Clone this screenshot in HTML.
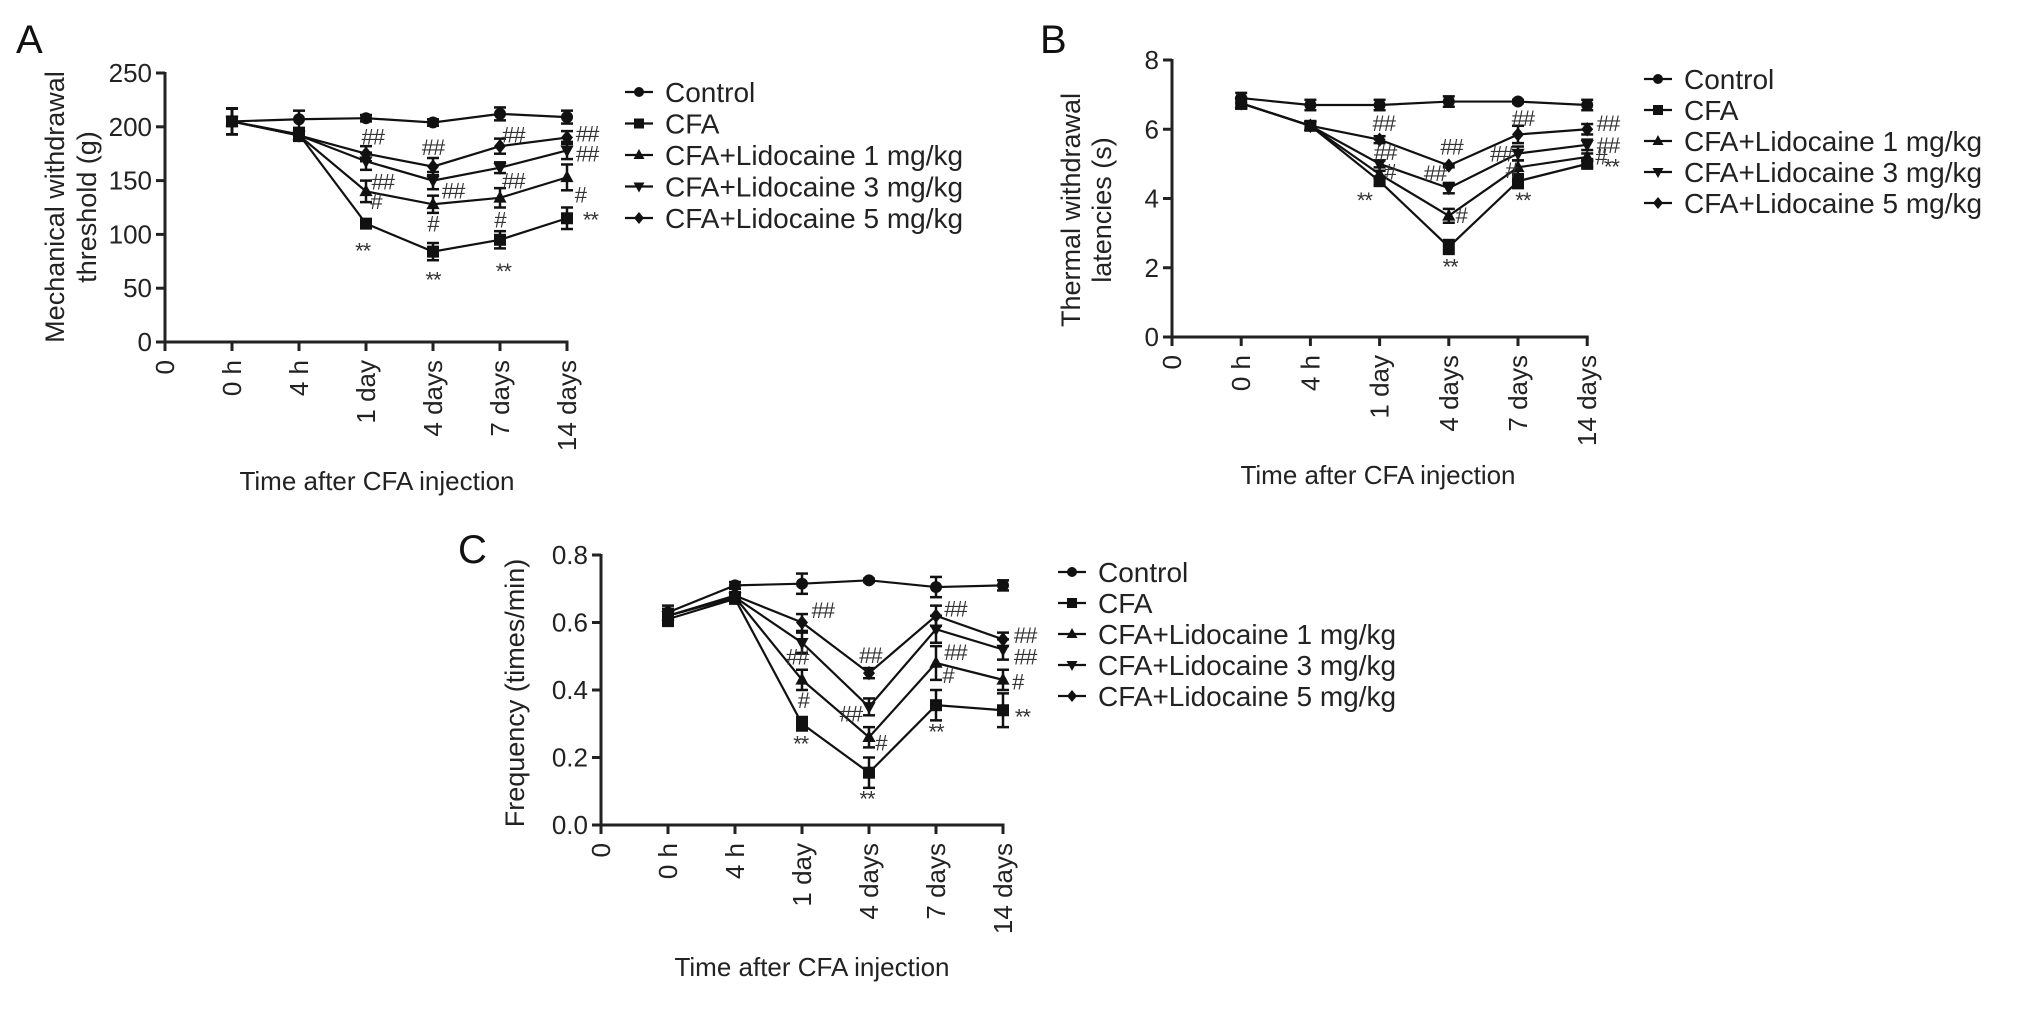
<!DOCTYPE html>
<html><head><meta charset="utf-8"><style>
html,body{margin:0;padding:0;background:#fff;}
svg{display:block;font-family:"Liberation Sans",Arial,sans-serif;}
</style></head><body>
<svg id="fig" width="2031" height="1015" viewBox="0 0 2031 1015" xmlns="http://www.w3.org/2000/svg">
<rect width="2031" height="1015" fill="#fff"/>
</svg>
<script>
// ---- shared data ----
const categories = ["0", "0 h", "4 h", "1 day", "4 days", "7 days", "14 days"];
const seriesNames = ["Control", "CFA", "CFA+Lidocaine 1 mg/kg", "CFA+Lidocaine 3 mg/kg", "CFA+Lidocaine 5 mg/kg"];
const markerTypes = ["circle", "square", "tri-up", "tri-down", "diamond"];

// ---- Panel A: mechanical withdrawal threshold (g) ----
const aTicks = [0, 50, 100, 150, 200, 250];
const aTickLabels = ["0", "50", "100", "150", "200", "250"];
const aControl = [205, 207, 208, 204, 212, 209];
const aCFA     = [205, 193, 110, 84, 95, 115];
const aLido1   = [205, 192, 140, 128, 134, 153];
const aLido3   = [205, 192, 168, 150, 162, 178];
const aLido5   = [205, 192, 175, 163, 182, 190];
const aErrControl = [12, 8, 3, 3, 6, 6];
const aErrCFA     = [12, 5, 4, 8, 8, 10];
const aErrLido1   = [12, 5, 10, 8, 9, 12];
const aErrLido3   = [12, 5, 8, 8, 5, 8];
const aErrLido5   = [12, 5, 7, 8, 7, 6];
const aMarks = [["##",3.1,191],["##",4,181],["##",5.2,193],["##",6.3,194],["##",6.3,175],["##",3.25,149],["#",3.15,131],["##",4.3,141],["#",4,110],["##",5.2,150],["#",5,114],["#",6.2,137],["**",2.95,85],["**",4,58],["**",5.05,66],["**",6.35,114]];

// ---- Panel B: thermal withdrawal latencies (s) ----
const bTicks = [0, 2, 4, 6, 8];
const bTickLabels = ["0", "2", "4", "6", "8"];
const bControl = [6.9, 6.7, 6.7, 6.8, 6.8, 6.7];
const bCFA     = [6.75, 6.1, 4.5, 2.6, 4.5, 5.0];
const bLido1   = [6.75, 6.1, 4.7, 3.5, 4.9, 5.2];
const bLido3   = [6.75, 6.1, 5.0, 4.3, 5.3, 5.55];
const bLido5   = [6.75, 6.1, 5.7, 4.95, 5.85, 6.0];
const bErrControl = [0.15, 0.15, 0.15, 0.15, 0.05, 0.15];
const bErrCFA     = [0.15, 0.12, 0.12, 0.2, 0.2, 0.1];
const bErrLido1   = [0.15, 0.12, 0.1, 0.2, 0.2, 0.1];
const bErrLido3   = [0.15, 0.12, 0.1, 0.15, 0.2, 0.15];
const bErrLido5   = [0.15, 0.12, 0.1, 0.05, 0.25, 0.15];
const bMarks = [["##",3.06,6.18],["##",3.08,5.35],["#",3.15,4.78],["##",4.04,5.5],["##",3.8,4.73],["#",4.18,3.53],["**",2.78,3.96],["**",4.02,2.03],["**",5.07,3.96],["##",5.07,6.32],["##",4.76,5.3],["#",4.9,4.83],["##",6.3,6.18],["##",6.3,5.55],["#",6.2,5.21],["**",6.35,4.92]];

// ---- Panel C: frequency (times/min) ----
const cTicks = [0, 0.2, 0.4, 0.6, 0.8];
const cTickLabels = ["0.0", "0.2", "0.4", "0.6", "0.8"];
const cControl = [0.63, 0.71, 0.715, 0.725, 0.705, 0.71];
const cCFA     = [0.61, 0.67, 0.30, 0.155, 0.355, 0.34];
const cLido1   = [0.62, 0.675, 0.43, 0.26, 0.48, 0.43];
const cLido3   = [0.62, 0.675, 0.54, 0.35, 0.58, 0.52];
const cLido5   = [0.62, 0.68, 0.60, 0.45, 0.62, 0.55];
const cErrControl = [0.02, 0.01, 0.03, 0.005, 0.03, 0.015];
const cErrCFA     = [0.02, 0.01, 0.02, 0.045, 0.045, 0.05];
const cErrLido1   = [0.02, 0.01, 0.03, 0.03, 0.05, 0.03];
const cErrLido3   = [0.02, 0.01, 0.03, 0.025, 0.04, 0.03];
const cErrLido5   = [0.02, 0.01, 0.025, 0.015, 0.03, 0.02];
const cMarks = [["##",3.31,0.637],["##",2.93,0.499],["#",3.02,0.37],["##",4.02,0.504],["##",3.73,0.331],["#",4.18,0.244],["##",5.29,0.642],["##",5.29,0.513],["#",5.18,0.444],["##",6.33,0.563],["##",6.33,0.499],["#",6.22,0.425],["**",6.29,0.321],["**",2.98,0.242],["**",3.97,0.079],["**",5.0,0.277]];

const NS = "http://www.w3.org/2000/svg";
const svg = document.getElementById("fig");
function mk(tag, attrs, parent) {
  const e = document.createElementNS(NS, tag);
  for (const k in attrs) e.setAttribute(k, attrs[k]);
  (parent || svg).appendChild(e);
  return e;
}
function marker(g, type, cx, cy, r) {
  let m;
  if (type === "circle") m = mk("circle", {cx: cx, cy: cy, r: r, fill: "#111"}, g);
  else if (type === "square") m = mk("rect", {x: cx - r, y: cy - r, width: 2 * r, height: 2 * r, fill: "#111"}, g);
  else if (type === "tri-up") m = mk("polygon", {points: `${cx},${cy - r * 1.2} ${cx - r * 1.1},${cy + r * 0.8} ${cx + r * 1.1},${cy + r * 0.8}`, fill: "#111"}, g);
  else if (type === "tri-down") m = mk("polygon", {points: `${cx},${cy + r * 1.2} ${cx - r * 1.1},${cy - r * 0.8} ${cx + r * 1.1},${cy - r * 0.8}`, fill: "#111"}, g);
  else m = mk("polygon", {points: `${cx},${cy - r * 1.2} ${cx + r},${cy} ${cx},${cy + r * 1.2} ${cx - r},${cy}`, fill: "#111"}, g);
  return m;
}

function drawPanel(p) {
  const g = mk("g", {});
  
  
  const X = i => p.x0 + i * p.step;
  const Y = v => p.yBot - (v - p.vMin) / (p.vMax - p.vMin) * (p.yBot - p.yTop);
  const xEnd = X(categories.length - 1);

  // panel letter
  const L = mk("text", {x: p.letterX, y: p.letterY, "font-size": 40, fill: "#111"}, g);
  L.textContent = p.letter;
  
  

  // axes
  const ax = mk("g", {stroke: "#222", "stroke-width": 3, fill: "none"}, g);
  
  
  mk("line", {x1: p.x0, y1: p.yTop - 1, x2: p.x0, y2: p.yBot + 1.5}, ax);
  mk("line", {x1: p.x0 - 1.5, y1: p.yBot, x2: xEnd + 1.5, y2: p.yBot}, ax);
  p.ticks.forEach((t, i) => {
    mk("line", {x1: p.x0 - 9, y1: Y(t), x2: p.x0, y2: Y(t)}, ax);
    const tl = mk("text", {x: p.x0 - 13, y: Y(t) + 9, "font-size": 26, "text-anchor": "end", fill: "#222"}, g);
    tl.textContent = p.tickLabels[i];
    
    
  });
  categories.forEach((c, i) => {
    mk("line", {x1: X(i), y1: p.yBot, x2: X(i), y2: p.yBot + 9}, ax);
    const tl = mk("text", {"font-size": 26, "text-anchor": "end", fill: "#222", transform: `translate(${X(i) + 9},${p.yBot + 18}) rotate(-90)`}, g);
    tl.textContent = c;
    
    
  });

  // axis titles
  const xt = mk("text", {x: p.xTitleX, y: p.xTitleY, "font-size": 26, "text-anchor": "middle", fill: "#222"}, g);
  xt.textContent = "Time after CFA injection";
  
  
  p.yTitle.forEach((line, k) => {
    const yt = mk("text", {"font-size": 27, "text-anchor": "middle", fill: "#222", transform: `translate(${p.yTitleX[k]},${p.yTitleY}) rotate(-90)`}, g);
    yt.textContent = line;
    
    
  });

  // series
  p.series.forEach((vals, s) => {
    const sg = mk("g", {}, g);
    
    
    const pts = vals.map((v, i) => `${X(i + 1)},${Y(v)}`).join(" ");
    mk("polyline", {points: pts, fill: "none", stroke: "#111", "stroke-width": 2.2}, sg);
    vals.forEach((v, i) => {
      const e = p.errs[s][i];
      const cx = X(i + 1);
      mk("line", {x1: cx, y1: Y(v + e), x2: cx, y2: Y(v - e), stroke: "#111", "stroke-width": 2.5}, sg);
      mk("line", {x1: cx - 6, y1: Y(v + e), x2: cx + 6, y2: Y(v + e), stroke: "#111", "stroke-width": 2.5}, sg);
      mk("line", {x1: cx - 6, y1: Y(v - e), x2: cx + 6, y2: Y(v - e), stroke: "#111", "stroke-width": 2.5}, sg);
      const m = marker(sg, markerTypes[s], cx, Y(v), 6);
      
      
    });
  });

  // significance marks
  p.marks.forEach(mm => {
    const t = mk("text", {x: X(mm[1]), y: Y(mm[2]) + 8, "font-size": 22, "text-anchor": "middle", fill: "#333", "letter-spacing": "-1"}, g);
    t.textContent = mm[0];
    
    
  });

  // legend
  const lg = mk("g", {}, g);
  
  
  seriesNames.forEach((n, s) => {
    const ly = p.legY + s * p.legStep;
    const eg = mk("g", {}, lg);
    
    
    mk("line", {x1: p.legX - 14, y1: ly, x2: p.legX + 14, y2: ly, stroke: "#111", "stroke-width": 2.2}, eg);
    marker(eg, markerTypes[s], p.legX, ly, 5);
    const t = mk("text", {x: p.legX + 26, y: ly + 10, "font-size": 28, fill: "#222"}, eg);
    t.textContent = n;
  });
}

drawPanel({name: "panel-a-mechanical", letter: "A", letterX: 16, letterY: 53,
  x0: 165, step: 67, yTop: 73, yBot: 342, vMin: 0, vMax: 250,
  ticks: aTicks, tickLabels: aTickLabels,
  series: [aControl, aCFA, aLido1, aLido3, aLido5],
  errs: [aErrControl, aErrCFA, aErrLido1, aErrLido3, aErrLido5],
  marks: aMarks,
  xTitleX: 377, xTitleY: 490,
  yTitle: ["Mechanical withdrawal", "threshold (g)"], yTitleX: [64, 96], yTitleY: 207,
  legX: 639, legY: 92, legStep: 31.5});

drawPanel({name: "panel-b-thermal", letter: "B", letterX: 1040, letterY: 53,
  x0: 1172, step: 69.2, yTop: 60, yBot: 337, vMin: 0, vMax: 8,
  ticks: bTicks, tickLabels: bTickLabels,
  series: [bControl, bCFA, bLido1, bLido3, bLido5],
  errs: [bErrControl, bErrCFA, bErrLido1, bErrLido3, bErrLido5],
  marks: bMarks,
  xTitleX: 1378, xTitleY: 484,
  yTitle: ["Thermal withdrawal", "latencies (s)"], yTitleX: [1080, 1111], yTitleY: 210,
  legX: 1658, legY: 79, legStep: 31});

drawPanel({name: "panel-c-frequency", letter: "C", letterX: 458, letterY: 563,
  x0: 601, step: 67, yTop: 555, yBot: 825, vMin: 0, vMax: 0.8,
  ticks: cTicks, tickLabels: cTickLabels,
  series: [cControl, cCFA, cLido1, cLido3, cLido5],
  errs: [cErrControl, cErrCFA, cErrLido1, cErrLido3, cErrLido5],
  marks: cMarks,
  xTitleX: 812, xTitleY: 976,
  yTitle: ["Frequency (times/min)"], yTitleX: [524], yTitleY: 693,
  legX: 1072, legY: 572, legStep: 31});
</script>
</body></html>
